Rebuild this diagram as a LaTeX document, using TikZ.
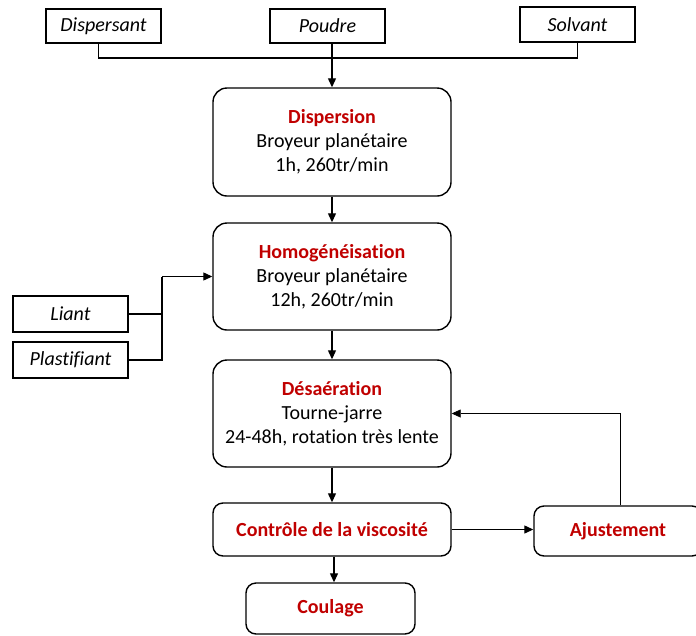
\documentclass[tikz,border=0pt]{standalone}
\usepackage{fontspec}
\setmainfont{Carlito}[Ligatures=NoCommon]
\usetikzlibrary{arrows.meta}
\definecolor{darkred}{RGB}{192,0,0}
\newcommand{\bigfont}{\fontsize{20}{24}\selectfont}
\tikzset{
  inbox/.style={draw, line width=1.3pt, minimum width=115pt, minimum height=34pt, inner sep=0pt, font=\bigfont\itshape},
  stepbox/.style={draw, line width=1.4pt, rounded corners=14pt, minimum width=238pt, inner sep=0pt, align=center, font=\bigfont},
  smallstep/.style={draw, line width=1.4pt, rounded corners=10pt, inner sep=0pt, text=darkred, font=\bigfont\bfseries},
  conn/.style={line width=1.2pt},
  arr/.style={line width=1.2pt, -{Triangle[length=9pt,width=8pt]}},
  thinarr/.style={line width=0.7pt, -{Triangle[length=9pt,width=8pt]}}
}
\begin{document}
\begin{tikzpicture}[x=1pt, y=-1pt, font=\bigfont]
\useasboundingbox (0,0) rectangle (696,635);
\node[inbox] (dispersant) at (103.5,26) {Dispersant};
\node[inbox] (poudre) at (327.5,26) {Poudre};
\node[inbox, minimum height=35pt] (solvant) at (577.5,24.5) {Solvant};
\node[stepbox, minimum height=108pt] (dispersion) at (332,142) {\textcolor{darkred}{\bfseries Dispersion}\\Broyeur planétaire\\1h, 260tr/min};
\node[stepbox, minimum height=107pt] (homog) at (332,276.5) {\textcolor{darkred}{\bfseries Homogénéisation}\\Broyeur planétaire\\12h, 260tr/min};
\node[stepbox, minimum height=107pt] (desa) at (332,413.5) {\textcolor{darkred}{\bfseries Désaération}\\Tourne-jarre\\24-48h, rotation très lente};
\node[smallstep, minimum width=238pt, minimum height=53pt] (ctrl) at (332,529.5) {Contrôle de la viscosité};
\node[smallstep, minimum width=168pt, minimum height=50pt] (ajust) at (618,531) {Ajustement};
\node[smallstep, minimum width=169pt, minimum height=51pt] (coulage) at (330.5,608.5) {Coulage};
\node[inbox, minimum height=36pt] (liant) at (70.5,314) {Liant};
\node[inbox, minimum height=36pt] (plast) at (70.5,360) {Plastifiant};
\coordinate (merge) at (333,58);
\coordinate (jn) at (162,276.5);
% top inputs
\draw[conn] ([xshift=-5pt]dispersant.south) |- (merge) -| (solvant.south);
\draw[arr] (poudre.south -| dispersion.north) -- (dispersion.north);
% main chain
\draw[arr] (dispersion.south) -- (homog.north);
\draw[conn] (liant.east) -- (liant.east -| jn);
\draw[conn] (plast.east) -| (jn);
\draw[arr] (jn) -- (homog.west);
\draw[arr] (homog.south) -- (desa.north);
\draw[arr] (desa.south) -- (ctrl.north);
\draw[arr] (ctrl.east) -- (ctrl.east -| ajust.west);
\draw[arr] ([xshift=2pt]ctrl.south) -- ([xshift=2pt]ctrl.south |- coulage.north);
\draw[thinarr] ([xshift=2pt]ajust.north) |- (desa.east);
\end{tikzpicture}
\end{document}
